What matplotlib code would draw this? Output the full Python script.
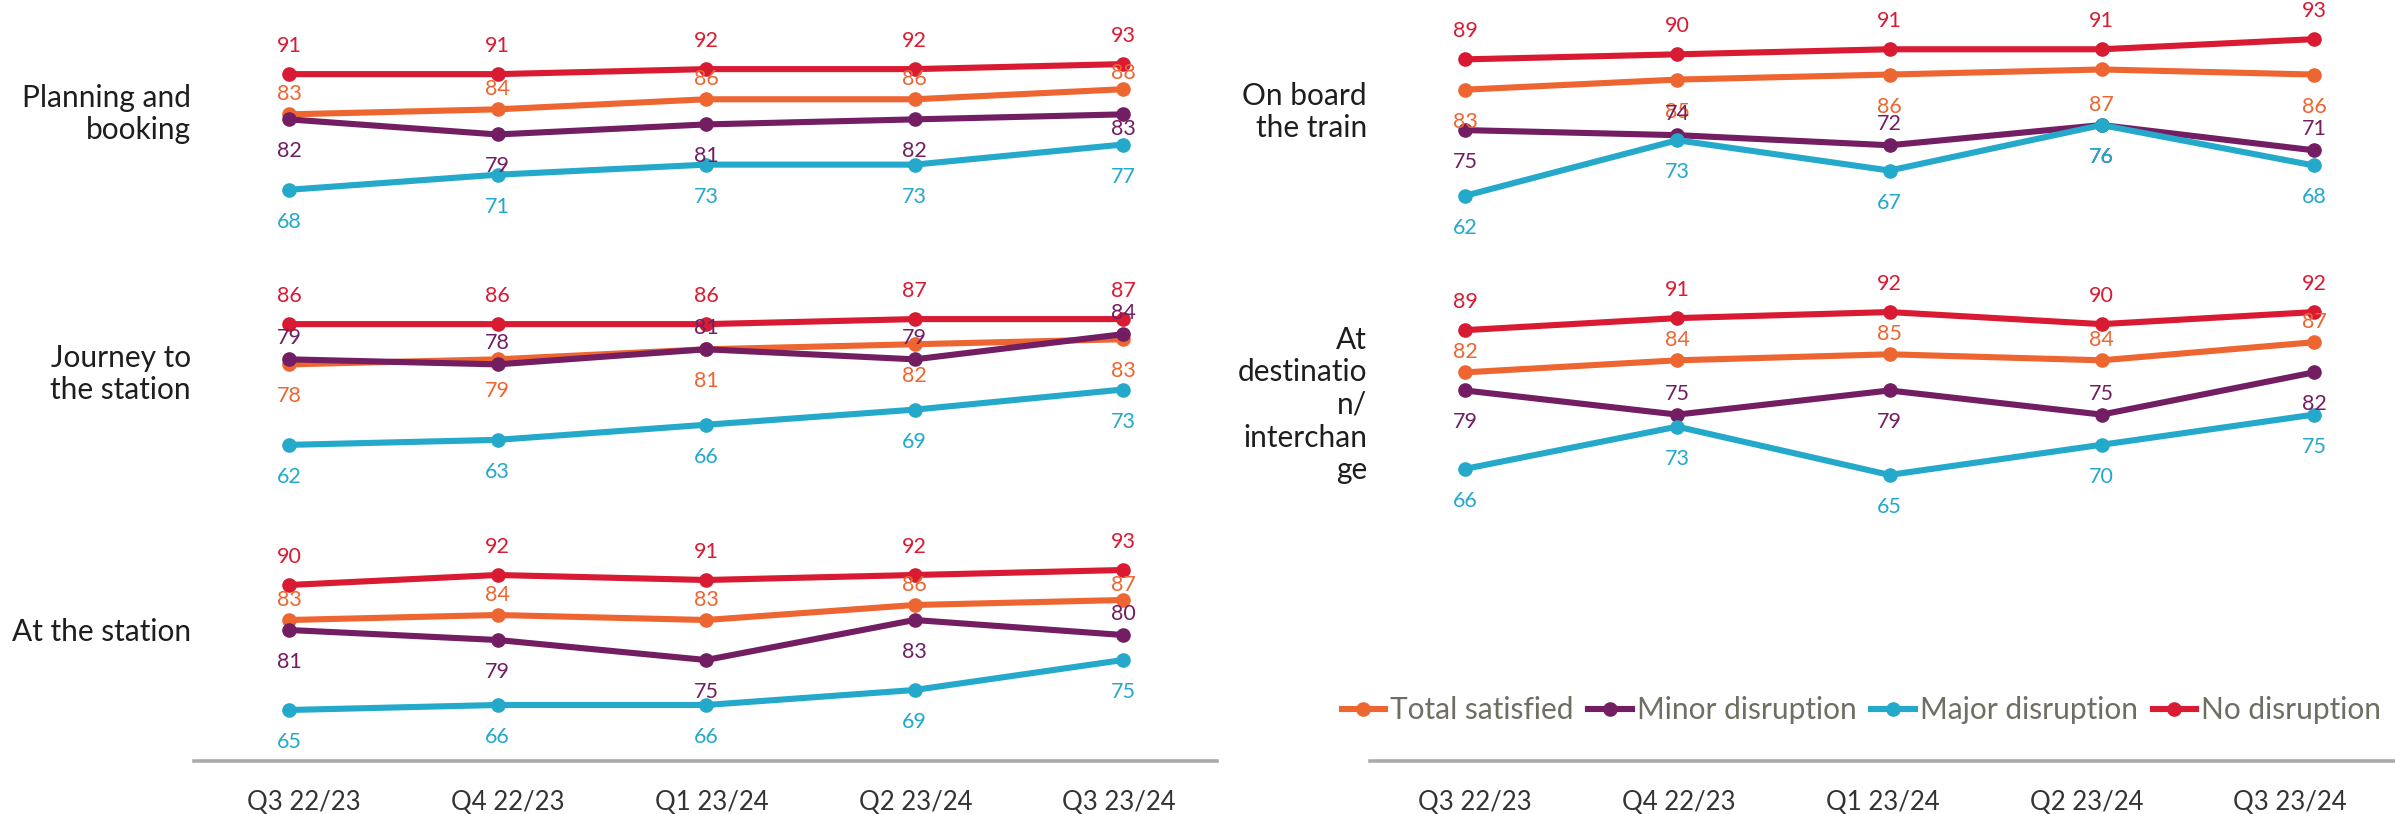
import matplotlib
matplotlib.use("Agg")
import matplotlib.pyplot as plt
from matplotlib.lines import Line2D

plt.rcParams['font.family'] = ['Lato', 'DejaVu Sans']
plt.rcParams['font.weight'] = 'normal'

quarters = ["Q3 22/23", "Q4 22/23", "Q1 23/24", "Q2 23/24", "Q3 23/24"]
series_names = ["Total satisfied", "Minor disruption", "Major disruption", "No disruption"]
colors = ["#ED6631", "#731E63", "#24A9CB", "#D81B32"]

# satisfaction scores (%) per stage of the journey
planning_total = [83, 84, 86, 86, 88]
planning_minor = [82, 79, 81, 82, 83]
planning_major = [68, 71, 73, 73, 77]
planning_none = [91, 91, 92, 92, 93]

journey_total = [78, 79, 81, 82, 83]
journey_minor = [79, 78, 81, 79, 84]
journey_major = [62, 63, 66, 69, 73]
journey_none = [86, 86, 86, 87, 87]

station_total = [83, 84, 83, 86, 87]
station_minor = [81, 79, 75, 83, 80]
station_major = [65, 66, 66, 69, 75]
station_none = [90, 92, 91, 92, 93]

onboard_total = [83, 85, 86, 87, 86]
onboard_minor = [75, 74, 72, 76, 71]
onboard_major = [62, 73, 67, 76, 68]
onboard_none = [89, 90, 91, 91, 93]

dest_total = [82, 84, 85, 84, 87]
dest_minor = [79, 75, 79, 75, 82]
dest_major = [66, 73, 65, 70, 75]
dest_none = [89, 91, 92, 90, 92]

W, H = 2395, 814
fig = plt.figure(figsize=(W / 100, H / 100), dpi=100)
fig.patch.set_facecolor("white")


def add_box(left, top, right, bottom):
    # axes placed by pixel edges (origin at top-left)
    return fig.add_axes([left / W, 1 - bottom / H, (right - left) / W, (bottom - top) / H])


# pixel x of the first and last quarter in each column (points, then tick labels)
columns = {"left": (289, 1123), "right": (1465, 2314)}
tick_cols = {"left": (304, 1119, 194, 1217), "right": (1475, 2290, 1370, 2395)}

up, dn = 1, -1
panels = [
    dict(title="Planning and\nbooking", col="left", box=(49, 230), ylim=(60, 96), ty=114,
         data=[planning_total, planning_minor, planning_major, planning_none],
         pos=[[up] * 5, [dn] * 5, [dn] * 5, [up] * 5],
         nudge={(0, 4): 16, (1, 4): -15}),
    dict(title="Journey to\nthe station", col="left", box=(304, 465), ylim=(58, 90), ty=374,
         data=[journey_total, journey_minor, journey_major, journey_none],
         pos=[[dn] * 5, [up] * 5, [dn] * 5, [up] * 5], nudge={}),
    dict(title="At the station", col="left", box=(555, 725), ylim=(62, 96), ty=632,
         data=[station_total, station_minor, station_major, station_none],
         pos=[[up] * 5, [dn, dn, dn, dn, up], [dn] * 5, [up] * 5],
         nudge={(0, 4): 15}),
    dict(title="On board\nthe train", col="right", box=(24, 216), ylim=(58, 96), ty=112,
         data=[onboard_total, onboard_minor, onboard_major, onboard_none],
         pos=[[dn] * 5, [dn, up, up, dn, up], [dn] * 5, [up] * 5],
         nudge={(0, 3): -36}),
    dict(title="At\ndestinatio\nn/\ninterchan\nge", col="right", box=(300, 493), ylim=(62, 94),
         ty=405, data=[dest_total, dest_minor, dest_major, dest_none],
         pos=[[up] * 5, [dn, up, dn, up, dn], [dn] * 5, [up] * 5], nudge={}),
]

above_off = [20, 21, 20, 28]
below_off = 32
x = list(range(len(quarters)))

for p in panels:
    x0, x1 = columns[p["col"]]
    step = (x1 - x0) / 4
    top, bottom = p["box"]
    ax = add_box(x0 - 0.3 * step, top, x1 + 0.3 * step, bottom)
    ax.set_xlim(-0.3, 4.3)
    ax.set_ylim(*p["ylim"])
    ax.axis("off")
    for i, vals in enumerate(p["data"]):
        ax.plot(x, vals, color=colors[i], lw=4.4, marker="o", ms=9.5,
                solid_capstyle="round", clip_on=False, zorder=2 + i)
        for xi, v, s in zip(x, vals, p["pos"][i]):
            off = above_off[i] if s > 0 else -below_off
            off = p["nudge"].get((i, xi), off)
            ax.annotate(str(v), (xi, v), xytext=(0, off), textcoords="offset pixels",
                        ha="center", va="center", fontsize=15.5, color=colors[i],
                        zorder=10)
    # stage name to the left of the panel
    fig.text((x0 - 98) / W, 1 - p["ty"] / H, p["title"], ha="right",
             va="center", fontsize=21.5, color="#1e1e1e", linespacing=1.2)

# quarter axis under each column
for col, (t0, t1, lpx, rpx) in tick_cols.items():
    step = (t1 - t0) / 4
    axx = add_box(lpx, 740, rpx, 761)
    axx.set_xlim((lpx - t0) / step, (rpx - t0) / step)
    axx.set_ylim(0, 1)
    for side in ["top", "left", "right"]:
        axx.spines[side].set_visible(False)
    axx.spines["bottom"].set_color("#ababab")
    axx.spines["bottom"].set_linewidth(2.6)
    axx.set_yticks([])
    axx.set_xticks(x)
    axx.set_xticklabels(quarters, fontsize=18.5, color="#333333")
    axx.tick_params(axis="x", length=0, pad=21)
    axx.patch.set_alpha(0)

handles = [Line2D([0], [0], color=c, lw=4.4, marker="o", ms=9.5) for c in colors]
fig.legend(handles, series_names, loc="center right", bbox_to_anchor=(2393 / W, 1 - 710 / H),
           ncol=4, frameon=False, fontsize=21.5, handlelength=1.45, handletextpad=0.17,
           columnspacing=0.5, labelcolor="#6e6e63", borderaxespad=0)

fig.savefig("out.png", dpi=100)
